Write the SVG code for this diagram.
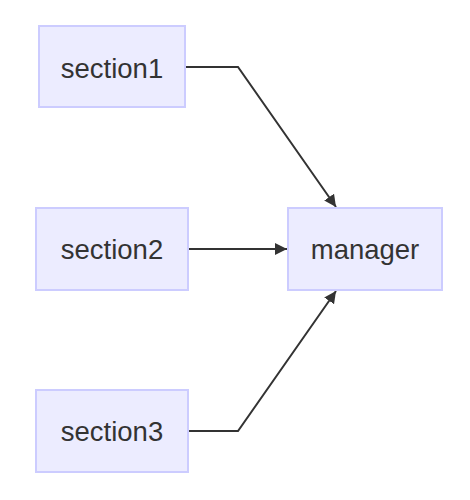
<svg xmlns="http://www.w3.org/2000/svg" width="470" height="500" viewBox="0 0 470 500">
<style>
.node rect{fill:#ECECFF;stroke:#CCCCFF;stroke-width:2}
.node text{font-family:"Liberation Sans",Arial,sans-serif;font-size:27.5px;fill:#333;text-anchor:middle}
.edge{fill:none;stroke:#333;stroke-width:2}
</style>
<defs>
<marker id="arrow" viewBox="0 0 10 10" refX="10" refY="5" markerWidth="12" markerHeight="12" markerUnits="userSpaceOnUse" orient="auto">
<path d="M0,0 L10,5 L0,10 z" fill="#333"/>
</marker>
</defs>
<rect width="470" height="500" fill="#fff"/>
<g id="connectors">
<path class="edge" d="M186,67 L238,67 L336,207" marker-end="url(#arrow)"/>
<path class="edge" d="M189,249 L287,249" marker-end="url(#arrow)"/>
<path class="edge" d="M189,431 L238,431 L336,291" marker-end="url(#arrow)"/>
</g>
<g id="section1" class="node"><rect x="39" y="26" width="146" height="81"/><text x="112" y="78">section1</text></g>
<g id="section2" class="node"><rect x="36" y="208" width="152" height="82"/><text x="112" y="259">section2</text></g>
<g id="section3" class="node"><rect x="36" y="390" width="152" height="82"/><text x="112" y="441">section3</text></g>
<g id="manager" class="node"><rect x="288" y="208" width="154" height="82"/><text x="365" y="259">manager</text></g>
</svg>
